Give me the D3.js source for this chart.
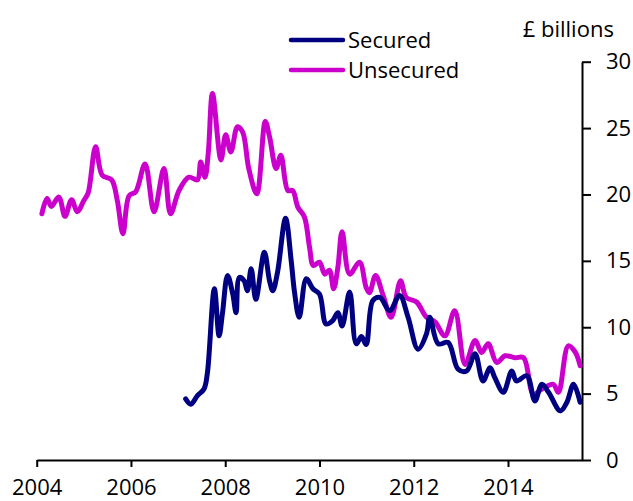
<!DOCTYPE html>
<html>
<head>
<meta charset="utf-8">
<script src="https://cdn.jsdelivr.net/npm/d3@7"></script>
<style>
  body { margin: 0; background: #fff; }
  svg { display: block; }
  text { font-family: "Open Sans", sans-serif; fill: #000; }
</style>
</head>
<body>
<script>
// series names and tick labels
var seriesNames = ["Secured", "Unsecured"];
var seriesColors = ["#000080", "#cc00cc"];
var xTicks = [2004, 2006, 2008, 2010, 2012, 2014];
var yTicks = [0, 5, 10, 15, 20, 25, 30];

// dates as decimal years
var securedDates = [2007.16, 2007.27, 2007.41, 2007.55, 2007.62, 2007.77, 2007.87, 2007.94, 2008.05, 2008.16,
    2008.23, 2008.30, 2008.40, 2008.47, 2008.55, 2008.65, 2008.83, 2008.94, 2009.01, 2009.11,
    2009.28, 2009.40, 2009.47, 2009.57, 2009.72, 2009.86, 2010.00, 2010.14, 2010.28, 2010.39,
    2010.48, 2010.64, 2010.78, 2010.89, 2010.99, 2011.13, 2011.28, 2011.49, 2011.70, 2011.88,
    2012.09, 2012.27, 2012.34, 2012.52, 2012.73, 2012.94, 2013.12, 2013.30, 2013.47, 2013.62,
    2013.72, 2013.90, 2014.08, 2014.18, 2014.40, 2014.57, 2014.72, 2014.86, 2015.11, 2015.25,
    2015.39, 2015.53];
var securedValues = [4.6, 4.2, 4.85, 5.35, 6.5, 12.9, 9.35, 11.0, 13.9, 12.5,
    11.1, 13.75, 13.5, 12.75, 14.4, 12.1, 15.65, 13.5, 12.75, 14.15,
    18.2, 15.0, 12.65, 10.75, 13.65, 12.9, 12.5, 10.25, 10.5, 11.1,
    10.1, 12.65, 8.75, 9.3, 8.7, 12.0, 12.25, 11.25, 12.4, 10.75,
    8.35, 9.5, 10.75, 8.75, 8.85, 6.85, 6.7, 8.0, 5.95, 6.95,
    6.2, 5.1, 6.7, 5.95, 6.35, 4.45, 5.7, 5.1, 3.7, 4.35,
    5.7, 4.35];

var unsecuredDates = [2004.11, 2004.22, 2004.31, 2004.47, 2004.60, 2004.74, 2004.86, 2005.00, 2005.09, 2005.25,
    2005.39, 2005.59, 2005.71, 2005.83, 2005.96, 2006.10, 2006.30, 2006.49, 2006.70, 2006.84,
    2007.02, 2007.23, 2007.41, 2007.48, 2007.57, 2007.64, 2007.73, 2007.91, 2008.01, 2008.12,
    2008.26, 2008.37, 2008.50, 2008.67, 2008.85, 2008.94, 2009.08, 2009.18, 2009.33, 2009.43,
    2009.54, 2009.68, 2009.79, 2009.87, 2010.00, 2010.11, 2010.21, 2010.30, 2010.39, 2010.48,
    2010.64, 2010.85, 2010.99, 2011.06, 2011.19, 2011.35, 2011.52, 2011.72, 2011.84, 2012.06,
    2012.27, 2012.45, 2012.66, 2012.87, 2013.09, 2013.30, 2013.44, 2013.58, 2013.76, 2013.94,
    2014.15, 2014.33, 2014.54, 2014.72, 2014.96, 2015.07, 2015.28, 2015.43, 2015.53];
var unsecuredValues = [18.55, 19.7, 19.1, 19.8, 18.35, 19.6, 18.7, 19.55, 20.1, 23.6,
    21.45, 21.1, 19.55, 17.05, 19.9, 20.2, 22.3, 18.7, 21.95, 18.55,
    20.3, 21.3, 21.1, 22.45, 21.3, 23.1, 27.6, 22.6, 24.5, 23.2,
    25.1, 24.7, 21.95, 20.05, 25.5, 24.35, 21.95, 22.95, 20.3, 20.3,
    19.05, 18.3, 16.0, 14.65, 14.9, 14.0, 14.3, 12.9, 14.5, 17.2,
    14.0, 14.9, 13.0, 12.6, 13.9, 12.4, 10.75, 13.5, 12.25, 11.9,
    10.75, 10.4, 9.35, 11.25, 7.2, 9.0, 8.1, 8.75, 7.35, 7.85,
    7.7, 7.7, 4.95, 5.35, 5.7, 5.1, 8.6, 8.1, 7.1];

var width = 633, height = 501;

var svg = d3.select("body").append("svg")
    .attr("width", width)
    .attr("height", height);

var x = d3.scaleLinear().domain([2004, 2015.57]).range([36.7, 582]);
var y = d3.scaleLinear().domain([0, 30]).range([460, 61.7]);

// x axis
var xAxis = svg.append("g")
    .attr("transform", "translate(0,460)")
    .call(d3.axisBottom(x).tickValues(xTicks).tickFormat(d3.format("d"))
        .tickSize(7).tickSizeOuter(0).tickPadding(12));
xAxis.selectAll("path, line").attr("stroke", "#000").attr("stroke-width", 2);
xAxis.selectAll("text").attr("font-size", "22px").attr("font-family", "Open Sans, sans-serif");

// y axis on the right
var yAxis = svg.append("g")
    .attr("transform", "translate(582,0)")
    .call(d3.axisRight(y).tickValues(yTicks).tickSize(9).tickSizeOuter(0).tickPadding(15));
yAxis.selectAll("path, line").attr("stroke", "#000").attr("stroke-width", 2);
yAxis.selectAll("text").attr("font-size", "22px").attr("font-family", "Open Sans, sans-serif");

svg.append("text")
    .attr("x", 522.7)
    .attr("y", 36.7)
    .attr("font-size", "22px")
    .text("£ billions");

var line = d3.line()
    .curve(d3.curveCatmullRom.alpha(0.5))
    .x(function(d) { return x(d[0]); })
    .y(function(d) { return y(d[1]); });

var unsecured = d3.zip(unsecuredDates, unsecuredValues);
var secured = d3.zip(securedDates, securedValues);

svg.append("path")
    .datum(unsecured)
    .attr("d", line)
    .attr("fill", "none")
    .attr("stroke", seriesColors[1])
    .attr("stroke-width", 5)
    .attr("stroke-linejoin", "round")
    .attr("stroke-linecap", "round");

svg.append("path")
    .datum(secured)
    .attr("d", line)
    .attr("fill", "none")
    .attr("stroke", seriesColors[0])
    .attr("stroke-width", 5)
    .attr("stroke-linejoin", "round")
    .attr("stroke-linecap", "round");

// legend
var legend = svg.selectAll(".legend")
    .data(seriesNames)
    .enter().append("g")
    .attr("class", "legend")
    .attr("transform", function(d, i) { return "translate(0," + (40 + i * 30) + ")"; });

legend.append("line")
    .attr("x1", 291)
    .attr("x2", 343)
    .attr("stroke", function(d, i) { return seriesColors[i]; })
    .attr("stroke-width", 4.5)
    .attr("stroke-linecap", "round");

legend.append("text")
    .attr("x", 348)
    .attr("y", 7.5)
    .attr("font-size", "22px")
    .text(function(d) { return d; });
</script>
</body>
</html>
